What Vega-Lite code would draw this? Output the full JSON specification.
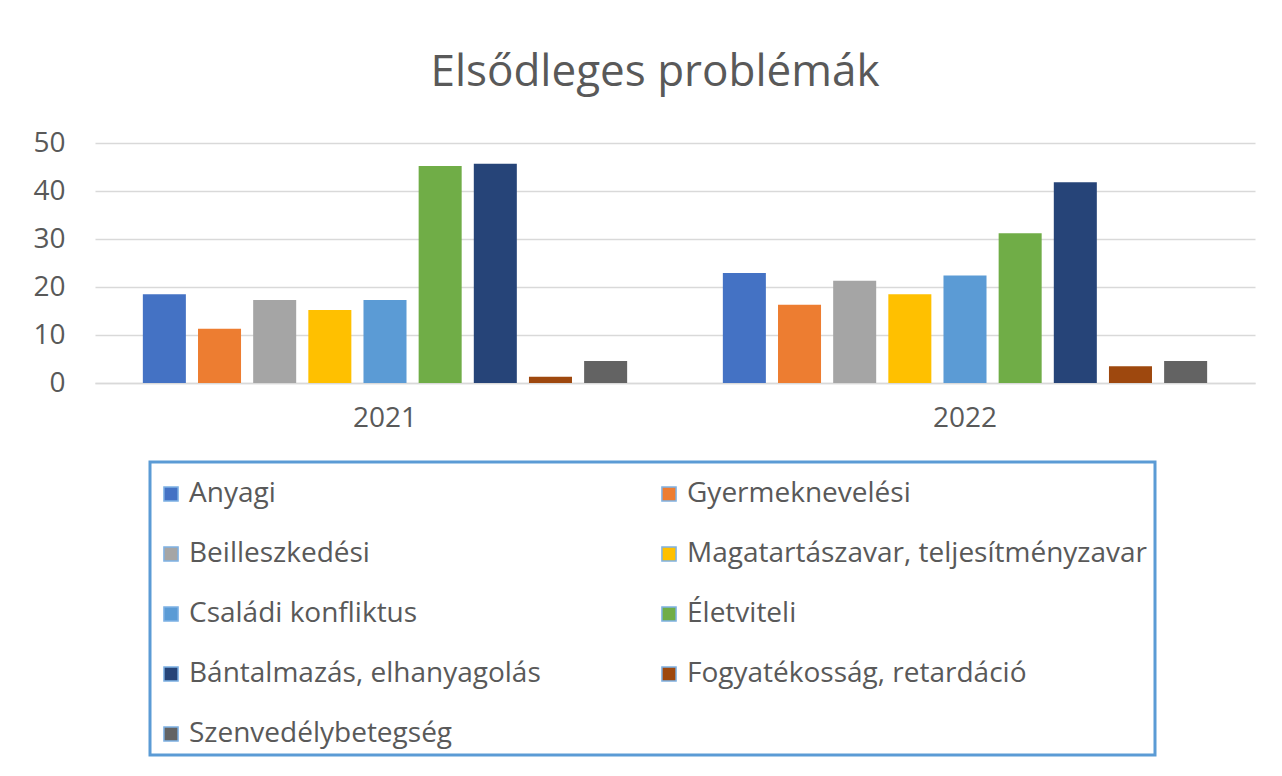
{
  "$schema": "https://vega.github.io/schema/vega-lite/v6.json",
  "autosize": {"type": "none"},
  "width": 1160,
  "height": 240,
  "padding": {"left": 95, "top": 143, "right": 27, "bottom": 393},
  "background": "white",
  "title": {
    "text": "Elsődleges problémák",
    "fontSize": 44,
    "font": "Open Sans",
    "fontWeight": "normal",
    "color": "#595959",
    "offset": 34,
    "dx": -20,
    "anchor": "middle"
  },
  "data": {
    "values": [
      {"ev": "2021", "kategoria": "Anyagi", "ertek": 18.5},
      {"ev": "2021", "kategoria": "Gyermeknevelési", "ertek": 11.3},
      {"ev": "2021", "kategoria": "Beilleszkedési", "ertek": 17.3},
      {"ev": "2021", "kategoria": "Magatartászavar, teljesítményzavar", "ertek": 15.2},
      {"ev": "2021", "kategoria": "Családi konfliktus", "ertek": 17.3},
      {"ev": "2021", "kategoria": "Életviteli", "ertek": 45.2},
      {"ev": "2021", "kategoria": "Bántalmazás, elhanyagolás", "ertek": 45.7},
      {"ev": "2021", "kategoria": "Fogyatékosság, retardáció", "ertek": 1.3},
      {"ev": "2021", "kategoria": "Szenvedélybetegség", "ertek": 4.6},
      {"ev": "2022", "kategoria": "Anyagi", "ertek": 22.9},
      {"ev": "2022", "kategoria": "Gyermeknevelési", "ertek": 16.3},
      {"ev": "2022", "kategoria": "Beilleszkedési", "ertek": 21.3},
      {"ev": "2022", "kategoria": "Magatartászavar, teljesítményzavar", "ertek": 18.5},
      {"ev": "2022", "kategoria": "Családi konfliktus", "ertek": 22.4},
      {"ev": "2022", "kategoria": "Életviteli", "ertek": 31.2},
      {"ev": "2022", "kategoria": "Bántalmazás, elhanyagolás", "ertek": 41.8},
      {"ev": "2022", "kategoria": "Fogyatékosság, retardáció", "ertek": 3.5},
      {"ev": "2022", "kategoria": "Szenvedélybetegség", "ertek": 4.6}
    ]
  },
  "mark": {"type": "bar"},
  "encoding": {
    "x": {
      "field": "ev",
      "type": "nominal",
      "scale": {"paddingInner": 0.165, "paddingOuter": 0.0825},
      "axis": {
        "title": null,
        "labelAngle": 0,
        "labelFontSize": 28,
        "labelFont": "Open Sans",
        "labelColor": "#595959",
        "labelPadding": 21,
        "ticks": false,
        "domainColor": "#D9D9D9",
        "domainWidth": 1.5,
        "grid": false
      }
    },
    "xOffset": {
      "field": "kategoria",
      "type": "nominal",
      "sort": ["Anyagi", "Gyermeknevelési", "Beilleszkedési", "Magatartászavar, teljesítményzavar", "Családi konfliktus", "Életviteli", "Bántalmazás, elhanyagolás", "Fogyatékosság, retardáció", "Szenvedélybetegség"],
      "scale": {"paddingInner": 0.22, "paddingOuter": 0}
    },
    "y": {
      "field": "ertek",
      "type": "quantitative",
      "scale": {"domain": [0, 50], "nice": false},
      "axis": {
        "title": null,
        "values": [0, 10, 20, 30, 40, 50],
        "labelFontSize": 28,
        "labelFont": "Open Sans",
        "labelColor": "#595959",
        "labelPadding": 30,
        "ticks": false,
        "domain": false,
        "gridColor": "#D9D9D9",
        "gridWidth": 1.5
      }
    },
    "color": {
      "field": "kategoria",
      "type": "nominal",
      "scale": {
        "domain": ["Anyagi", "Beilleszkedési", "Családi konfliktus", "Bántalmazás, elhanyagolás", "Szenvedélybetegség", "Gyermeknevelési", "Magatartászavar, teljesítményzavar", "Életviteli", "Fogyatékosság, retardáció"],
        "range": ["#4472C4", "#A5A5A5", "#5B9BD5", "#264478", "#636363", "#ED7D31", "#FFC000", "#70AD47", "#9E480E"]
      },
      "legend": {
        "title": " ",
        "titleFontSize": 1,
        "titlePadding": 10,
        "orient": "none",
        "legendX": 55,
        "legendY": 319,
        "columns": 2,
        "columnPadding": 114,
        "rowPadding": 32,
        "padding": 7,
        "strokeColor": "#5B9BD5",
        "symbolType": "square",
        "symbolSize": 200,
        "symbolStrokeColor": "#7FB2E5",
        "symbolStrokeWidth": 1.5,
        "labelFontSize": 28,
        "labelFont": "Open Sans",
        "labelColor": "#595959",
        "labelLimit": 600,
        "labelOffset": 4,
        "encode": {"legend": {"update": {"strokeWidth": {"value": 3}}}}
      }
    }
  },
  "config": {
    "view": {"stroke": null}
  }
}
